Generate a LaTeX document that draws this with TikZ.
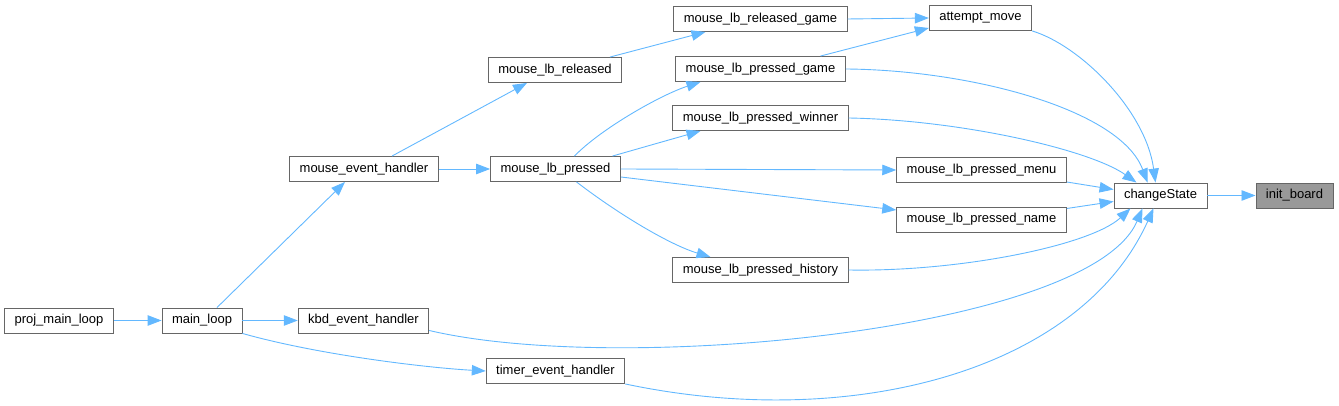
\documentclass[tikz,border=0pt]{standalone}
\usepackage{fontspec}
\setmainfont{Liberation Sans}
\usetikzlibrary{arrows.meta}
\definecolor{edgeblue}{HTML}{63B8FF}
\definecolor{boxline}{HTML}{666666}
\definecolor{focusfill}{HTML}{999999}

\begin{document}
\begin{tikzpicture}[x=1pt, y=1pt,
    box/.style={draw=boxline, fill=white, line width=0.9pt, minimum height=25pt,
                inner xsep=10pt, font=\fontsize{13}{15}\selectfont},
    focus/.style={box, fill=focusfill},
    call/.style={draw=edgeblue, line width=0.9pt, -{Triangle[length=14pt, width=10.5pt]}}]
    \useasboundingbox (0,0) rectangle (1339,406);

    % callers, left to right
    \node[box] (proj_main_loop) at (59,85.5) {proj\_main\_loop};
    \node[box] (main_loop) at (202,85.5) {main\_loop};
    \node[box] (kbd_event_handler) at (363.5,85.5) {kbd\_event\_handler};
    \node[box] (mouse_event_handler) at (364,237) {mouse\_event\_handler};
    \node[box] (timer_event_handler) at (555.5,35) {timer\_event\_handler};
    \node[box] (mouse_lb_pressed) at (555.5,237) {mouse\_lb\_pressed};
    \node[box] (mouse_lb_released) at (555,336) {mouse\_lb\_released};
    \node[box] (released_game) at (760.5,387) {mouse\_lb\_released\_game};
    \node[box] (pressed_game) at (760.5,337) {mouse\_lb\_pressed\_game};
    \node[box] (pressed_winner) at (760.5,288) {mouse\_lb\_pressed\_winner};
    \node[box] (pressed_history) at (760.5,136) {mouse\_lb\_pressed\_history};
    \node[box] (pressed_menu) at (981.5,236) {mouse\_lb\_pressed\_menu};
    \node[box] (pressed_name) at (981.5,186.5) {mouse\_lb\_pressed\_name};
    \node[box] (attempt_move) at (980.5,388) {attempt\_move};
    \node[box] (changeState) at (1160.5,210.5) {changeState};
    \node[focus] (init_board) at (1294.5,210.5) {init\_board};

    \draw[call] (proj_main_loop.east) -- (main_loop.west);
    \draw[call] ([xshift=15pt]main_loop.north) -- ([xshift=-19pt]mouse_event_handler.south);
    \draw[call] (main_loop.east) -- (kbd_event_handler.west);
    \draw[call] (main_loop.south east) .. controls +(78,-22) and +(-56,3) .. (timer_event_handler.west);
    \draw[call] (mouse_event_handler.east) -- (mouse_lb_pressed.west);
    \draw[call] ([xshift=28pt]mouse_event_handler.north) -- ([xshift=-28pt]mouse_lb_released.south);
    \draw[call] ([xshift=55pt]mouse_lb_released.north) -- ([xshift=-55pt]released_game.south);

    % mouse_lb_pressed fans out
    \draw[call] ([xshift=19pt]mouse_lb_pressed.north) .. controls +(26,27) and +(-40,-13) .. ([xshift=-60pt]pressed_game.south);
    \draw[call] ([xshift=57pt]mouse_lb_pressed.north) -- ([xshift=-60pt]pressed_winner.south);
    \draw[call] (mouse_lb_pressed.east) -- (pressed_menu.west);
    \draw[call] ([yshift=-8pt]mouse_lb_pressed.east) -- ([yshift=9.5pt]pressed_name.west);
    \draw[call] ([xshift=21pt]mouse_lb_pressed.south) .. controls +(43,-33) and +(-40,12) .. ([xshift=-50pt]pressed_history.north);

    \draw[call] (released_game.east) -- (attempt_move.west);
    \draw[call] ([xshift=60pt]pressed_game.north) -- ([yshift=-10pt]attempt_move.west);

    % everything ends in changeState
    \draw[call] (attempt_move.south east) .. controls +(47,-14) and +(-10,73) .. ([xshift=-5pt]changeState.north);
    \draw[call] (pressed_game.east) .. controls +(125,-1) and +(-27,73) .. ([xshift=-13pt]changeState.north);
    \draw[call] (pressed_winner.east) .. controls +(112,-2) and +(-47,33) .. ([xshift=-24pt]changeState.north);
    \draw[call] ([yshift=-12pt]pressed_menu.east) -- ([yshift=6pt]changeState.west);
    \draw[call] ([yshift=11pt]pressed_name.east) -- ([yshift=-6pt]changeState.west);
    \draw[call] (pressed_history.east) .. controls +(111,-2) and +(-40,-37) .. ([xshift=-30pt]changeState.south);
    \draw[call] ([yshift=-10pt]kbd_event_handler.east) .. controls +(191,-45) and +(-52,-122) .. ([xshift=-18pt]changeState.south);
    \draw[call] (timer_event_handler.south east) .. controls +(227,-48) and +(-73,-162) .. ([xshift=-7pt]changeState.south);

    \draw[call] (changeState.east) -- (init_board.west);
\end{tikzpicture}
\end{document}
